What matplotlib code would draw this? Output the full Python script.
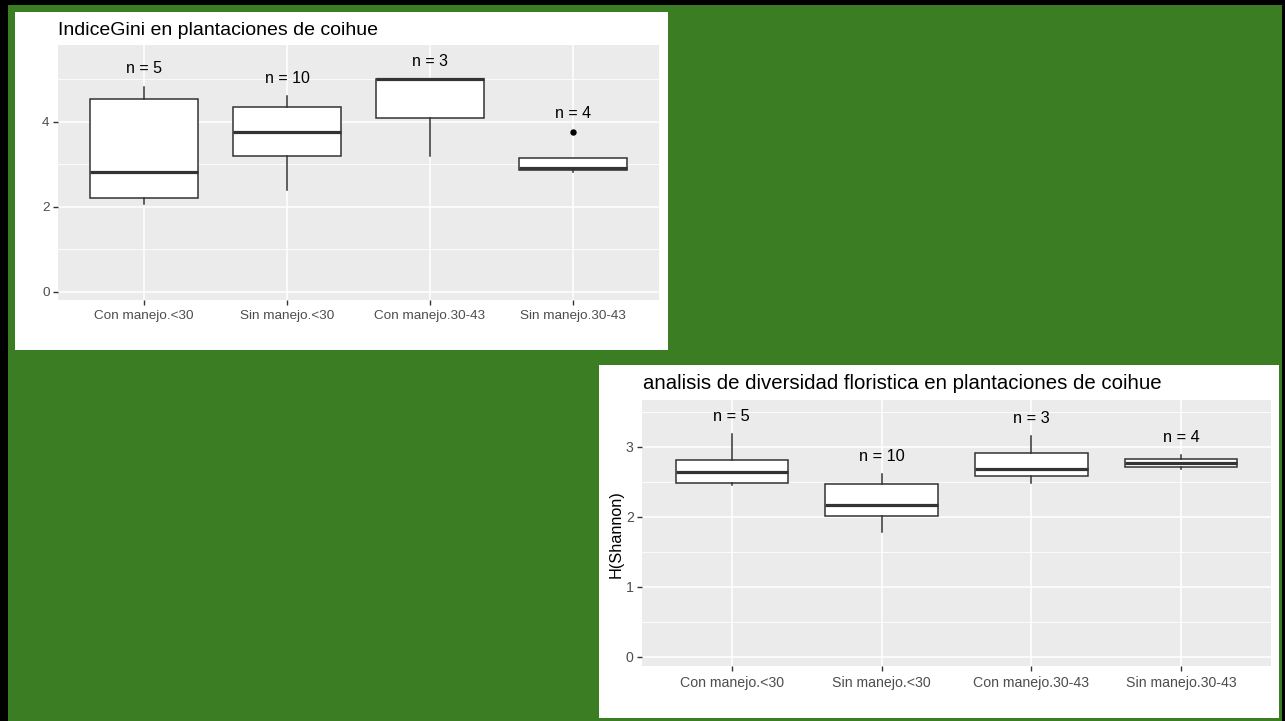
import matplotlib
matplotlib.use("Agg")
import matplotlib.pyplot as plt
from matplotlib import font_manager
from matplotlib.patches import Rectangle

plt.rcParams["font.family"] = ["Liberation Sans", "DejaVu Sans"]

# ---- data -------------------------------------------------------------
categories = ["Con manejo.<30", "Sin manejo.<30", "Con manejo.30-43", "Sin manejo.30-43"]
n_obs = [5, 10, 3, 4]

# Gini index: five-number summaries per group
gini_whislo = [2.06, 2.39, 3.20, 2.82]
gini_q1 = [2.20, 3.19, 4.08, 2.86]
gini_med = [2.82, 3.76, 5.00, 2.90]
gini_q3 = [4.53, 4.34, 5.00, 3.15]
gini_whishi = [4.82, 4.59, 5.00, 3.15]
gini_fliers = [[], [], [], [3.76]]

# Shannon diversity H: five-number summaries per group
shan_whislo = [2.46, 1.79, 2.49, 2.68]
shan_q1 = [2.49, 2.01, 2.59, 2.72]
shan_med = [2.64, 2.17, 2.69, 2.77]
shan_q3 = [2.81, 2.47, 2.91, 2.83]
shan_whishi = [3.18, 2.61, 3.16, 2.88]
shan_fliers = [[], [], [], []]

# ---- fonts ---------------------------------------------------------------
# axis tick labels use a narrow sans when one is installed
_installed = {f.name for f in font_manager.fontManager.ttflist}
if "Liberation Sans Narrow" in _installed:
    TICK_FAMILY = ["Liberation Sans Narrow", "Liberation Sans"]
    TICK_SCALE = 1.17
else:
    TICK_FAMILY = ["Liberation Sans", "DejaVu Sans"]
    TICK_SCALE = 1.0

# ---- layout helpers ------------------------------------------------------
W, H = 1285, 721
fig = plt.figure(figsize=(W / 100, H / 100), dpi=100)
fig.patch.set_facecolor("#3A7D23")


def frac_rect(x0, y0, x1, y1):
    return [x0 / W, 1 - y1 / H, (x1 - x0) / W, (y1 - y0) / H]


def add_rect(x0, y0, x1, y1, color):
    l, b, w, h = frac_rect(x0, y0, x1, y1)
    fig.add_artist(Rectangle((l, b), w, h, transform=fig.transFigure,
                             facecolor=color, edgecolor="none", zorder=0))


# black outline of the slide
add_rect(0, 0, W, 5, "black")
add_rect(0, 0, 8, H, "black")
add_rect(W - 3, 0, W, H, "black")

# white chart cards
add_rect(15, 12, 668, 350, "white")
add_rect(599, 365, 1279, 718, "white")

GRID = "white"
INK = "#333333"
TICKTXT = "#4D4D4D"


def draw_box_panel(ax, whislo, q1, med, q3, whishi, fliers, offset,
                   ylim, yticks, yminor, fs_tick, fs_n, xpad):
    ax.set_facecolor("#EBEBEB")
    pos = list(range(1, len(categories) + 1))
    stats = []
    for i in range(len(categories)):
        stats.append(dict(whislo=whislo[i], q1=q1[i], med=med[i], q3=q3[i],
                          whishi=whishi[i], fliers=fliers[i]))
    ax.bxp(stats, positions=pos, widths=0.75, patch_artist=True,
           showcaps=False,
           boxprops=dict(facecolor="white", edgecolor=INK, linewidth=1.1),
           medianprops=dict(color=INK, linewidth=2.3, solid_capstyle="butt"),
           whiskerprops=dict(color=INK, linewidth=1.1),
           flierprops=dict(marker="o", markerfacecolor="black",
                           markeredgecolor="black", markersize=3.6),
           zorder=3)
    for i, p in enumerate(pos):
        top = max([whishi[i]] + list(fliers[i]))
        ax.text(p, top + offset, f"n = {n_obs[i]}", ha="center", va="center",
                fontsize=fs_n, color="black", zorder=4)

    ax.set_xlim(0.4, len(categories) + 0.6)
    ax.set_ylim(*ylim)
    ax.set_xticks(pos)
    ax.set_xticklabels(categories, family=TICK_FAMILY)
    ax.set_yticks(yticks)
    ax.set_yticklabels([f"{t:g}" for t in yticks], family=TICK_FAMILY)
    ax.set_yticks(yminor, minor=True)
    ax.tick_params(axis="both", which="major", length=3.5, width=1.0,
                   color=INK, labelcolor=TICKTXT,
                   labelsize=fs_tick * TICK_SCALE)
    ax.tick_params(axis="x", which="major", pad=xpad)
    ax.tick_params(axis="y", which="major", pad=2.5)
    ax.tick_params(axis="y", which="minor", length=0)
    ax.grid(True, which="major", color=GRID, linewidth=1.1, zorder=0)
    ax.grid(True, which="minor", axis="y", color=GRID, linewidth=0.6, zorder=0)
    ax.set_axisbelow(True)
    for s in ax.spines.values():
        s.set_visible(False)


# ---- Gini chart ---------------------------------------------------------
ax1 = fig.add_axes(frac_rect(58, 45, 659, 300))
draw_box_panel(ax1, gini_whislo, gini_q1, gini_med, gini_q3, gini_whishi,
               gini_fliers, 0.42, (-0.2, 5.8), [0, 2, 4], [1, 3, 5],
               9.7, 11.5, 3.5)
fig.text(57.5 / W, 1 - 35 / H, "IndiceGini en plantaciones de coihue",
         fontsize=14.0, color="black", ha="left", va="baseline")

# ---- Shannon chart ------------------------------------------------------
ax2 = fig.add_axes(frac_rect(642, 400, 1271, 666))
draw_box_panel(ax2, shan_whislo, shan_q1, shan_med, shan_q3, shan_whishi,
               shan_fliers, 0.25, (-0.13, 3.67), [0, 1, 2, 3],
               [0.5, 1.5, 2.5, 3.5], 10.2, 11.8, 3.5)
fig.text(643 / W, 1 - 389 / H,
         "analisis de diversidad floristica en plantaciones de coihue",
         fontsize=14.7, color="black", ha="left", va="baseline")
fig.text(616 / W, 1 - 534 / H, "H(Shannon)", rotation=90, fontsize=11.7,
         color="black", ha="center", va="center")

fig.savefig("out.png", dpi=100, facecolor=fig.get_facecolor())
